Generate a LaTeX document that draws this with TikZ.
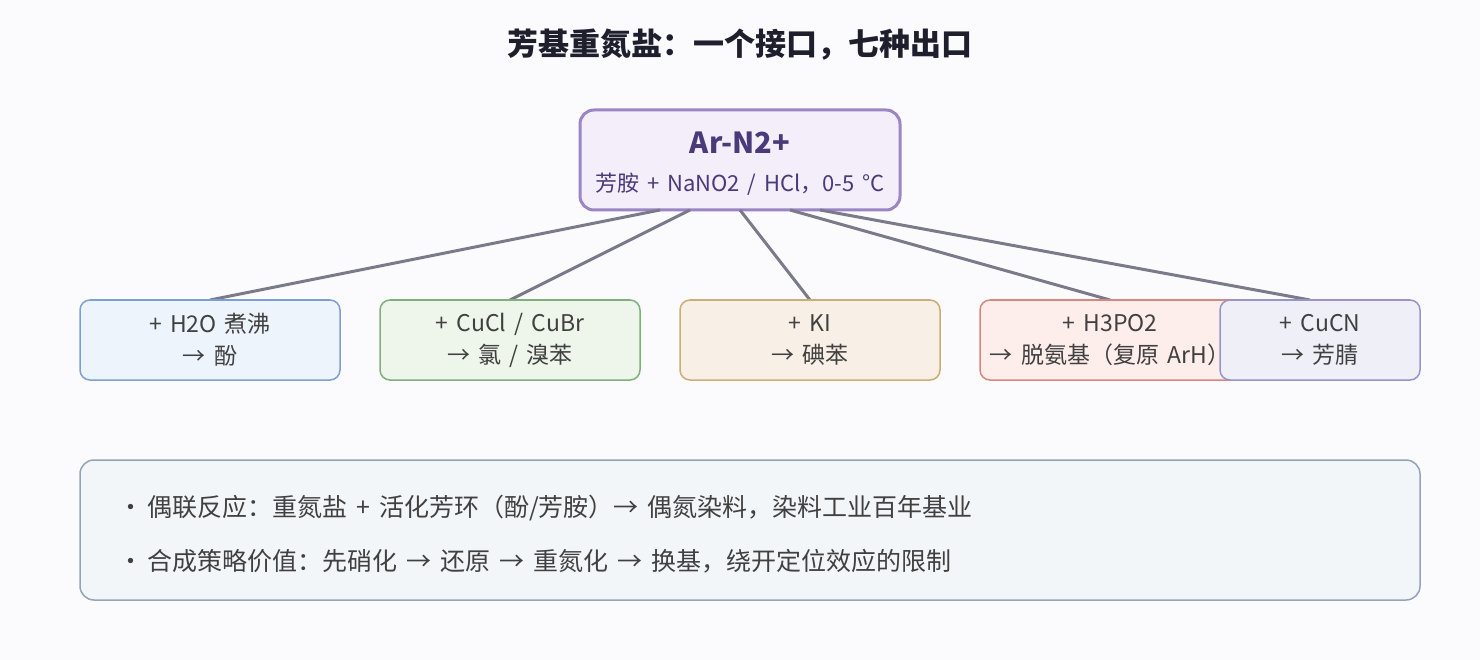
\documentclass[tikz,border=0pt]{standalone}
\usepackage{fontspec}
\setmainfont{Noto Sans CJK SC}[WordSpace=1.6]
\begin{document}
\begin{tikzpicture}[x=1pt,y=-1pt,
 box/.style={draw=#1,rounded corners=10pt,line width=1.5pt,align=center,font=\fontsize{23}{32}\selectfont,text=black!75}]
\definecolor{bg}{HTML}{FBFBFE}
\fill[bg] (0,0) rectangle (1480,660);
\useasboundingbox (0,0) rectangle (1480,660);
\node[font=\fontsize{31}{36}\selectfont\bfseries,text={rgb,255:red,30;green,30;blue,45}] (title) at (740,45) {芳基重氮盐：一个接口，七种出口};
\definecolor{tf}{HTML}{F3EEF9}\definecolor{tb}{HTML}{9B85C4}
\filldraw[fill=tf,draw=tb,line width=3pt,rounded corners=14pt] (580,110) rectangle (900,210);
\node[font=\fontsize{29}{34}\selectfont\bfseries,text={rgb,255:red,74;green,58;blue,122}] (top) at (740,143) {Ar-N2+};
\node[font=\fontsize{22}{26}\selectfont,text={rgb,255:red,74;green,58;blue,122}] (sub) at (740,184) {芳胺 + NaNO2 / HCl，0-5 °C};
\coordinate (t1) at (660,210);\coordinate (t2) at (690,210);\coordinate (t3) at (740,210);\coordinate (t4) at (790,210);\coordinate (t5) at (820,210);
\coordinate (b1) at (210,300);\coordinate (b2) at (510,300);\coordinate (b3) at (810,300);\coordinate (b4) at (1110,300);\coordinate (b5) at (1310,300);
\foreach \i in {1,...,5} \draw[line width=3pt,color={rgb,255:red,122;green,122;blue,138}] (t\i) -- (b\i);
\definecolor{f1}{HTML}{EEF4FC}\definecolor{d1}{HTML}{7E9FD4}
\definecolor{f2}{HTML}{EEF6EC}\definecolor{d2}{HTML}{7FB07A}
\definecolor{f3}{HTML}{F8F0E6}\definecolor{d3}{HTML}{C9AE78}
\definecolor{f4}{HTML}{FDEDEB}\definecolor{d4}{HTML}{D4887E}
\definecolor{f5}{HTML}{EFEFF8}\definecolor{d5}{HTML}{9A93C8}
\node[box=d1,fill=f1,minimum width=260pt,minimum height=80pt] (n1) at (210,340) {+ H2O 煮沸\\→ 酚};
\node[box=d2,fill=f2,minimum width=260pt,minimum height=80pt] (n2) at (510,340) {+ CuCl / CuBr\\→ 氯 / 溴苯};
\node[box=d3,fill=f3,minimum width=260pt,minimum height=80pt] (n3) at (810,340) {+ KI\\→ 碘苯};
\node[box=d4,fill=f4,minimum width=260pt,minimum height=80pt] (n4) at (1110,340) {+ H3PO2\\→ 脱氨基（复原 ArH）};
\node[box=d5,fill=f5,minimum width=200pt,minimum height=80pt] (n5) at (1320,340) {+ CuCN\\→ 芳腈};
\definecolor{pf}{HTML}{F3F6F8}\definecolor{pd}{HTML}{94A3B8}
\filldraw[fill=pf,draw=pd,line width=1.5pt,rounded corners=14pt] (80,460) rectangle (1420,600);
\node[anchor=west,font=\fontsize{25}{30}\selectfont,text=black!75,inner sep=0pt] (l1) at (118,508) {·\,偶联反应：重氮盐 + 活化芳环（酚/芳胺）→ 偶氮染料，染料工业百年基业};
\node[anchor=west,font=\fontsize{25}{30}\selectfont,text=black!75,inner sep=0pt] (l2) at (118,561) {·\,合成策略价值：先硝化 → 还原 → 重氮化 → 换基，绕开定位效应的限制};
\end{tikzpicture}
\end{document}
